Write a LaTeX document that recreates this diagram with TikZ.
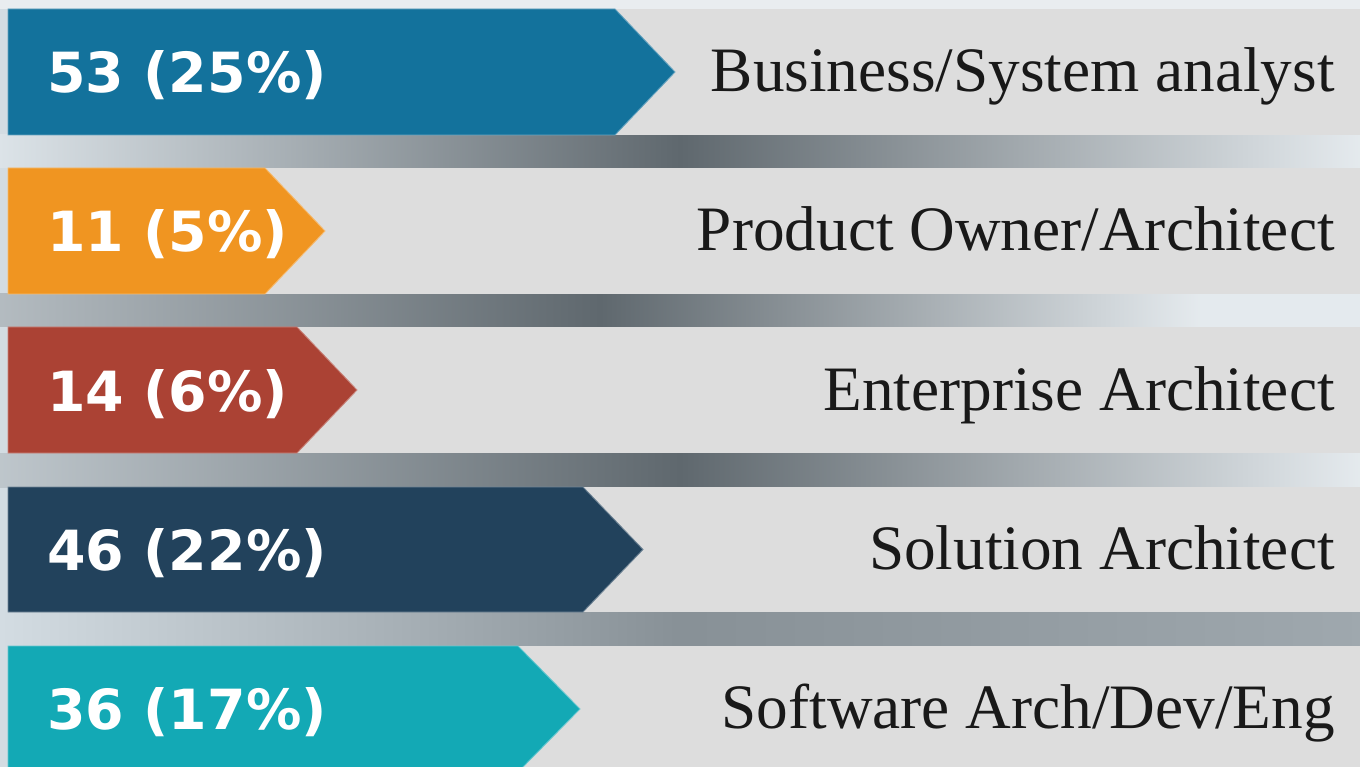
\documentclass[tikz,border=0pt]{standalone}
\usepackage{fontspec}
\setmainfont{Liberation Serif}
\newfontfamily\tagfont{DejaVu Sans}
\usepackage{xcolor}
\usepackage{tikz}
\usetikzlibrary{positioning,calc}

\definecolor{bgblue}{HTML}{D3DCE2}
\definecolor{bargrey}{HTML}{DDDDDD}
\definecolor{cloud}{HTML}{5F686E}
\definecolor{analystblue}{HTML}{13729C}
\definecolor{ownerorange}{HTML}{F09521}
\definecolor{enterprisered}{HTML}{AB4234}
\definecolor{solutionnavy}{HTML}{22425C}
\definecolor{softwareteal}{HTML}{13A9B5}

\begin{document}
\begin{tikzpicture}[
    role_bar/.style={fill=bargrey, draw=none},
    count_tag/.style={fill=#1, draw=#1!65!white, line width=0.5pt},
    gap_cloud/.style={left color=#1, right color=bgblue!60!white, middle color=cloud, draw=none},
    count_text/.style={anchor=base west, text=white, inner sep=0pt, font=\tagfont\bfseries\fontsize{31.5}{32}\selectfont},
    role_text/.style={anchor=base east, text=black!90, inner sep=0pt, font=\fontsize{36}{37}\selectfont}
]

% Background and frame
\useasboundingbox (0,0) rectangle (27.2,-15.34);
\fill[bgblue] (0,0) rectangle (27.2,-15.34);
\fill[bgblue!50!white] (0,0) rectangle (27.2,-0.18);

% Cloudy strips between the rows
\shade[gap_cloud=bgblue!80!white] (0,-2.70) rectangle (27.2,-3.36);
\shade[gap_cloud=bgblue!85!black] (0,-5.88) rectangle (24.0,-6.54);
\fill[bgblue!60!white] (24.0,-5.88) rectangle (27.2,-6.54);
\shade[gap_cloud=bgblue!90!black] (0,-9.06) rectangle (27.2,-9.74);
\shade[left color=bgblue, right color=cloud!45!bgblue, middle color=cloud!65!bgblue] (0,-12.24) rectangle (27.2,-12.92);

% Grey role bars
\fill[role_bar] (0.16,-0.18) rectangle (27.2,-2.70);
\fill[role_bar] (0.16,-3.36) rectangle (27.2,-5.88);
\fill[role_bar] (0.16,-6.54) rectangle (27.2,-9.06);
\fill[role_bar] (0.16,-9.74) rectangle (27.2,-12.24);
\fill[role_bar] (0.16,-12.92) rectangle (27.2,-15.44);

% Coloured count tags
\filldraw[count_tag=analystblue] (0.16,-0.18) -- (12.30,-0.18) -- (13.50,-1.44) -- (12.30,-2.70) -- (0.16,-2.70) -- cycle;
\filldraw[count_tag=ownerorange] (0.16,-3.36) -- (5.30,-3.36) -- (6.50,-4.62) -- (5.30,-5.88) -- (0.16,-5.88) -- cycle;
\filldraw[count_tag=enterprisered] (0.16,-6.54) -- (5.94,-6.54) -- (7.14,-7.80) -- (5.94,-9.06) -- (0.16,-9.06) -- cycle;
\filldraw[count_tag=solutionnavy] (0.16,-9.74) -- (11.66,-9.74) -- (12.86,-10.99) -- (11.66,-12.24) -- (0.16,-12.24) -- cycle;
\filldraw[count_tag=softwareteal] (0.16,-12.92) -- (10.36,-12.92) -- (11.60,-14.18) -- (10.36,-15.44) -- (0.16,-15.44) -- cycle;

% Counts
\node[count_text] (count1) at (0.94,-1.86) {53 (25\%)};
\node[count_text] (count2) at (0.94,-5.04) {11 (5\%)};
\node[count_text] (count3) at (0.94,-8.22) {14 (6\%)};
\node[count_text] (count4) at (0.94,-11.40) {46 (22\%)};
\node[count_text] (count5) at (0.94,-14.58) {36 (17\%)};

% Roles
\node[role_text] (role1) at (26.70,-1.84) {Business/System analyst};
\node[role_text] (role2) at (26.70,-5.02) {Product Owner/Architect};
\node[role_text] (role3) at (26.70,-8.20) {Enterprise Architect};
\node[role_text] (role4) at (26.70,-11.38) {Solution Architect};
\node[role_text] (role5) at (26.70,-14.56) {Software Arch/Dev/Eng};

\end{tikzpicture}
\end{document}
